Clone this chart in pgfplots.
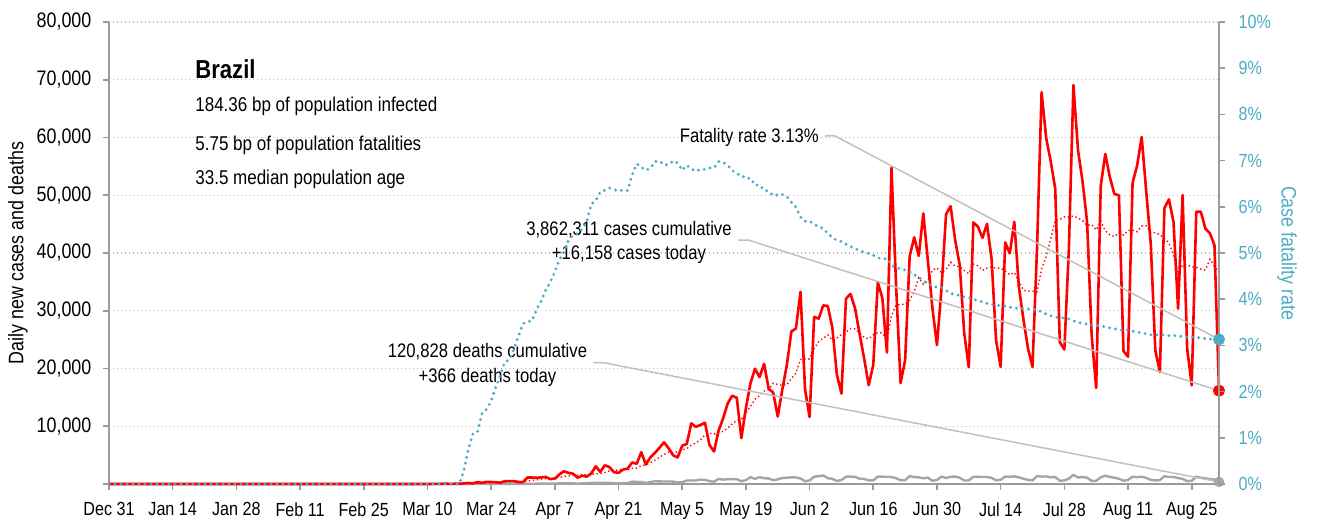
\documentclass[border=0pt]{standalone}
\usepackage{pgfplots}
\pgfplotsset{compat=1.18}
\usepackage{pgfplotstable}
\usepackage{fontspec}
\setmainfont{Liberation Sans}[FakeStretch=0.85]
\definecolor{cfrblue}{RGB}{75,172,198}
\definecolor{axgray}{RGB}{155,155,155}
\definecolor{gridgray}{RGB}{185,185,185}
\definecolor{anngray}{RGB}{192,192,192}
\definecolor{deathgray}{RGB}{165,165,165}

\pgfplotstableread{
day cases
0 0
70 0
71 9
72 18
73 25
74 74
75 0
76 49
77 34
78 112
79 183
80 111
81 330
82 208
83 368
84 345
85 310
86 232
87 482
88 502
89 487
90 352
91 323
92 1138
93 1119
94 1074
95 1146
96 1222
97 852
98 926
99 1661
100 2210
101 1930
102 1781
103 1089
104 1442
105 1261
106 1832
107 3058
108 2105
109 3257
110 2917
111 2055
112 1927
113 2498
114 2678
115 3735
116 3503
117 5514
118 3379
119 4613
120 5385
121 6276
122 7218
123 6209
124 4970
125 4588
126 6633
127 6935
128 10503
129 9888
130 10222
131 10611
132 6760
133 5632
134 9258
135 11385
136 13944
137 15305
138 14919
139 7938
140 13140
141 17408
142 19951
143 18508
144 20803
145 16508
146 15813
147 11687
148 16324
149 20599
150 26417
151 26928
152 33274
153 16409
154 11598
155 28936
156 28633
157 30925
158 30830
159 27075
160 18912
161 15654
162 32091
163 32913
164 30412
165 25982
166 21704
167 17110
168 20647
169 34918
170 32188
171 22765
172 54771
173 34666
174 17459
175 21432
176 39436
177 42725
178 39483
179 46860
180 38693
181 30476
182 24052
183 33846
184 46712
185 48105
186 42223
187 37923
188 26051
189 20229
190 45305
191 44571
192 42619
193 45048
194 39023
195 24831
196 20286
197 41857
198 39924
199 45403
200 34177
201 28532
202 23529
203 20257
204 41008
205 67860
206 59961
207 55891
208 51147
209 24578
210 23284
211 40816
212 69074
213 57837
214 52383
215 45392
216 25800
217 16641
218 51603
219 57152
220 53139
221 50230
222 49970
223 23010
224 22048
225 52160
226 55155
227 60091
228 50644
229 41576
230 23101
231 19373
232 47784
233 49298
234 45323
235 30355
236 50032
237 23421
238 17078
239 47134
240 47161
241 44235
242 43412
243 41350
244 16158
}\casetab

\pgfplotstableread{
day avg
0 0
70 0
77 30
78 45
79 68
80 80
81 117
82 147
83 192
84 237
85 265
86 272
87 325
88 350
89 389
90 387
91 384
92 502
93 629
94 714
95 806
96 911
97 982
98 1068
99 1143
100 1299
101 1421
102 1512
103 1493
104 1577
105 1625
106 1649
107 1770
108 1795
109 2006
110 2267
111 2355
112 2450
113 2545
114 2491
115 2724
116 2759
117 3130
118 3319
119 3703
120 4115
121 4629
122 5127
123 5513
124 5436
125 5608
126 5897
127 6118
128 6722
129 7104
130 7677
131 8483
132 8793
133 8650
134 8982
135 9108
136 9687
137 10414
138 11029
139 11197
140 12270
141 13434
142 14658
143 15310
144 16095
145 16322
146 17447
147 17240
148 17085
149 17177
150 18307
151 19182
152 21577
153 21663
154 21650
155 23452
156 24599
157 25243
158 25801
159 24915
160 25273
161 25852
162 26303
163 26914
164 26841
165 26148
166 25381
167 25124
168 25837
169 26241
170 26137
171 25045
172 29158
173 31009
174 31059
175 31171
176 31817
177 33322
178 35710
179 34580
180 35155
181 37015
182 37389
183 36591
184 37160
185 38392
186 37730
187 37620
188 36987
189 36441
190 38078
191 37772
192 36989
193 37392
194 37549
195 37375
196 37383
197 36891
198 36227
199 36625
200 35072
201 33573
202 33387
203 33383
204 33261
205 37252
206 39332
207 42434
208 45665
209 45815
210 46247
211 46220
212 46393
213 46090
214 45588
215 44766
216 44941
217 43992
218 45533
219 43830
220 43159
221 42851
222 43505
223 43106
224 43879
225 43958
226 43673
227 44666
228 44725
229 43526
230 43539
231 43157
232 42532
233 41695
234 39586
235 36687
236 37895
237 37941
238 37613
239 37520
240 37215
241 37059
242 38925
243 37684
244 36647
}\avgtab

\pgfplotstableread{
day deaths
0 0
77 0
78 1
79 3
80 3
81 4
82 7
83 7
84 9
85 12
86 11
87 20
88 15
89 22
90 22
91 23
92 42
93 40
94 58
95 60
96 73
97 54
98 67
99 114
100 133
101 141
102 115
103 68
104 99
105 105
106 204
107 204
108 188
109 217
110 206
111 115
112 113
113 166
114 165
115 407
116 357
117 346
118 189
119 338
120 474
121 449
122 435
123 428
124 421
125 275
126 296
127 600
128 615
129 610
130 751
131 730
132 496
133 396
134 881
135 749
136 844
137 824
138 816
139 485
140 674
141 1179
142 888
143 1188
144 1001
145 965
146 653
147 807
148 1039
149 1086
150 1156
151 1124
152 956
153 480
154 623
155 1262
156 1349
157 1473
158 1005
159 904
160 525
161 679
162 1272
163 1274
164 1239
165 909
166 892
167 612
168 627
169 1282
170 1269
171 1238
172 1206
173 1022
174 641
175 654
176 1374
177 1185
178 1141
179 990
180 1109
181 552
182 692
183 1280
184 1038
185 1252
186 1290
187 1091
188 602
189 620
190 1254
191 1223
192 1220
193 1214
194 1071
195 631
196 733
197 1300
198 1233
199 1322
200 1163
201 921
202 716
203 632
204 1367
205 1284
206 1311
207 1156
208 1211
209 555
210 627
211 921
212 1595
213 1129
214 1212
215 1088
216 541
217 561
218 1154
219 1437
220 1237
221 1079
222 905
223 572
224 703
225 1274
226 1175
227 1262
228 1060
229 709
230 620
231 684
232 1352
233 1212
234 1204
235 1045
236 892
237 494
238 553
239 1271
240 1085
241 984
242 855
243 758
244 366
}\deathtab

\pgfplotstableread{
day cfr
0 0
77 0
78 0.29
79 0.76
80 1.09
81 1.13
82 1.53
83 1.62
84 1.80
85 2.09
86 2.34
87 2.64
88 2.69
89 2.92
90 3.20
91 3.47
92 3.52
93 3.53
94 3.78
95 3.96
96 4.20
97 4.37
98 4.59
99 4.86
100 5.02
101 5.27
102 5.38
103 5.42
104 5.52
105 5.67
106 6.06
107 6.13
108 6.32
109 6.36
110 6.41
111 6.37
112 6.35
113 6.36
114 6.35
115 6.69
116 6.93
117 6.86
118 6.79
119 6.83
120 6.98
121 6.99
122 6.91
123 6.91
124 6.99
125 6.95
126 6.79
127 6.90
128 6.82
129 6.77
130 6.81
131 6.81
132 6.84
133 6.84
134 6.98
135 6.96
136 6.90
137 6.79
138 6.71
139 6.69
140 6.61
141 6.62
142 6.47
143 6.47
144 6.36
145 6.34
146 6.24
147 6.26
148 6.27
149 6.22
150 6.10
151 5.99
152 5.78
153 5.69
154 5.69
155 5.62
156 5.57
157 5.53
158 5.42
159 5.34
160 5.27
161 5.25
162 5.19
163 5.14
164 5.10
165 5.05
166 5.02
167 4.99
168 4.95
169 4.90
170 4.87
171 4.88
172 4.74
173 4.68
174 4.66
175 4.63
176 4.59
177 4.53
178 4.48
179 4.39
180 4.34
181 4.29
182 4.26
183 4.25
184 4.19
185 4.13
186 4.10
187 4.08
188 4.05
189 4.03
190 4.00
191 3.97
192 3.94
193 3.91
194 3.88
195 3.87
196 3.86
197 3.85
198 3.83
199 3.81
200 3.80
201 3.80
202 3.79
203 3.78
204 3.77
205 3.72
206 3.68
207 3.64
208 3.61
209 3.60
210 3.59
211 3.57
212 3.53
213 3.50
214 3.47
215 3.46
216 3.44
217 3.44
218 3.42
219 3.40
220 3.38
221 3.36
222 3.34
223 3.33
224 3.33
225 3.31
226 3.29
227 3.27
228 3.25
229 3.23
230 3.23
231 3.23
232 3.23
233 3.21
234 3.21
235 3.21
236 3.19
237 3.18
238 3.18
239 3.18
240 3.16
241 3.15
242 3.14
243 3.13
244 3.13
}\cfrtab

\begin{document}
\begin{tikzpicture}
\begin{axis}[
  name=main,
  at={(0,0)}, anchor=south west,
  scale only axis, width=555pt, height=231pt,
  xmin=0, xmax=244, ymin=0, ymax=80000,
  clip=false,
  scaled y ticks=false, scaled x ticks=false,
  axis x line*=bottom, axis y line*=left,
  axis line style={draw=axgray, line width=0.8pt, -},
  xtick={0,14,...,238},
  xticklabels={Dec 31,Jan 14,Jan 28,Feb 11,Feb 25,Mar 10,Mar 24,Apr 7,Apr 21,May 5,May 19,Jun 2,Jun 16,Jun 30,Jul 14,Jul 28,Aug 11,Aug 25},
  ytick={0,10000,...,80000},
  yticklabels={,{10,000},{20,000},{30,000},{40,000},{50,000},{60,000},{70,000},{80,000}},
  tick align=outside, major tick length=3pt,
  tick style={draw=axgray, line width=0.8pt},
  xticklabel style={font=\fontsize{9.5}{11}\selectfont, yshift=-2.8pt},
  yticklabel style={font=\fontsize{10.5}{12}\selectfont, xshift=-2.3pt},
  ymajorgrids,
  grid style={draw=gridgray, line width=0.6pt, dash pattern=on 0.6pt off 1.4pt},
  ylabel={Daily new cases and deaths},
  every axis y label/.style={at={(axis description cs:-0.082,0.5)}, rotate=90, anchor=center, font=\fontsize{10.5}{12}\selectfont},
]
\addplot[deathgray, line width=1.2pt, line join=round] table[x=day, y=deaths] {\deathtab};
\addplot[red, line width=0.7pt, dash pattern=on 0.7pt off 1.3pt] table[x=day, y=avg] {\avgtab};
\addplot[red, line width=1.3pt, line join=round] table[x=day, y=cases] {\casetab};

\draw[anngray, line width=0.75pt] (axis cs:157.4,60260) -- (axis cs:159.6,60260) -- (axis cs:244,25040);
\draw[anngray, line width=0.75pt] (axis cs:138.3,42250) -- (axis cs:140.5,42250) -- (axis cs:244,16158);
\draw[anngray, line width=0.75pt] (axis cs:106.5,21004) -- (axis cs:108.7,21004) -- (axis cs:244,366);

\addplot[only marks, mark=*, mark size=2.8pt, red] coordinates {(244,16158)};
\addplot[only marks, mark=*, mark size=2.4pt, deathgray] coordinates {(244,366)};

\node[anchor=base west, inner sep=0pt, font=\fontsize{13}{15}\selectfont\bfseries] at (axis cs:18.9,70130) {Brazil};
\node[anchor=base west, inner sep=0pt, font=\fontsize{10}{12}\selectfont] at (axis cs:18.9,64467) {184.36 bp of population infected};
\node[anchor=base west, inner sep=0pt, font=\fontsize{10}{12}\selectfont] at (axis cs:18.9,57835) {5.75 bp of population fatalities};
\node[anchor=base west, inner sep=0pt, font=\fontsize{10}{12}\selectfont] at (axis cs:18.9,51775) {33.5 median population age};

\node[anchor=base east, inner sep=0pt, font=\fontsize{9.8}{12}\selectfont] at (axis cs:156.1,59100) {Fatality rate 3.13\%};
\node[anchor=base, inner sep=0pt, font=\fontsize{9.8}{12}\selectfont] at (axis cs:114.3,42944) {3,862,311 cases cumulative};
\node[anchor=base, inner sep=0pt, font=\fontsize{9.8}{12}\selectfont] at (axis cs:114.3,38788) {+16,158 cases today};
\node[anchor=base, inner sep=0pt, font=\fontsize{9.8}{12}\selectfont] at (axis cs:83.2,21940) {120,828 deaths cumulative};
\node[anchor=base, inner sep=0pt, font=\fontsize{9.8}{12}\selectfont] at (axis cs:83.2,17610) {+366 deaths today};
\end{axis}

\begin{axis}[
  at={(0,0)}, anchor=south west,
  scale only axis, width=555pt, height=231pt,
  xmin=0, xmax=244, ymin=0, ymax=10,
  clip=false,
  scaled y ticks=false,
  axis x line=none, axis y line*=right,
  axis line style={draw=axgray, line width=0.8pt, -},
  ytick={0,1,...,10},
  yticklabels={0\%,1\%,2\%,3\%,4\%,5\%,6\%,7\%,8\%,9\%,10\%},
  tick align=outside, major tick length=3pt,
  tick style={draw=axgray, line width=0.8pt},
  yticklabel style={font=\fontsize{9.5}{11}\selectfont, text=cfrblue, xshift=3.3pt},
  ylabel={Case fatality rate},
  every axis y label/.style={at={(axis description cs:1.0613,0.5)}, rotate=-90, anchor=center, font=\fontsize{10.5}{12}\selectfont, text=cfrblue},
]
\addplot[cfrblue, line width=1.6pt, line cap=round, dash pattern=on 0pt off 3pt] table[x=day, y=cfr] {\cfrtab};
\addplot[only marks, mark=*, mark size=2.8pt, cfrblue] coordinates {(244,3.13)};
\end{axis}

\pgfresetboundingbox
\path ([xshift=-54.5pt,yshift=-19.5pt]main.south west) rectangle ([xshift=50pt,yshift=11pt]main.north east);
\end{tikzpicture}
\end{document}
